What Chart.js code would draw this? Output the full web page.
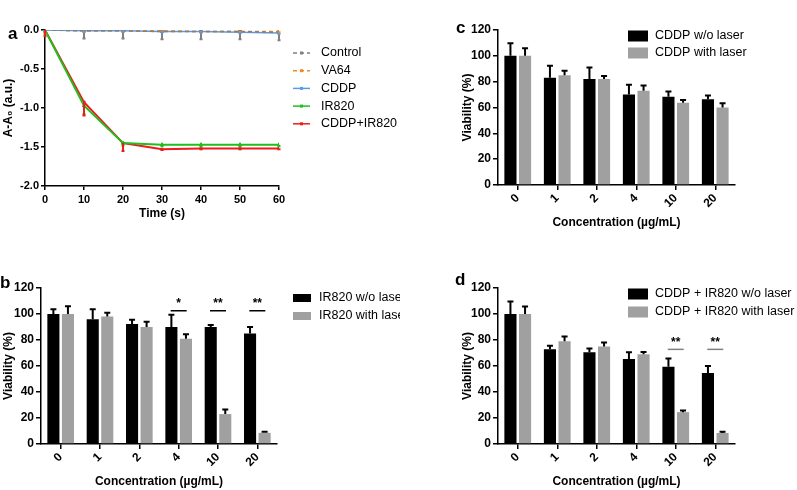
<!DOCTYPE html>
<html>
<head>
<meta charset="utf-8">
<script src="https://cdn.jsdelivr.net/npm/chart.js@4.4.0/dist/chart.umd.min.js"></script>
<style>
  body { margin: 0; background: #fff; width: 797px; height: 490px; overflow: hidden; position: relative; font-family: 'Liberation Sans', Arial, sans-serif; }
  canvas { position: absolute; }
  .tag { position: absolute; font-weight: bold; font-size: 17px; line-height: 17px; }
</style>
</head>
<body>
<canvas id="chart-a" width="400" height="240" style="left:0;top:0"></canvas>
<canvas id="chart-b" width="400" height="245" style="left:0;top:245px"></canvas>
<canvas id="chart-c" width="377" height="240" style="left:420px;top:0"></canvas>
<canvas id="chart-d" width="377" height="245" style="left:420px;top:245px"></canvas>
<div class="tag" style="left:8px;top:25px">a</div>
<div class="tag" style="left:0;top:274px">b</div>
<div class="tag" style="left:456px;top:19px">c</div>
<div class="tag" style="left:455px;top:271px">d</div>
<script>
// panel a - absorbance change vs time
const timePoints = [0, 10, 20, 30, 40, 50, 60];
const controlAbs = [0, -0.01, -0.01, -0.02, -0.02, -0.02, -0.03];
const controlErr = [0.03, 0.1, 0.1, 0.1, 0.1, 0.1, 0.1];
const va64Abs = [0, -0.01, -0.01, -0.01, -0.02, -0.02, -0.02];
const va64Err = [0.05, 0.01, 0.01, 0.01, 0.01, 0.01, 0.01];
const cddpAbs = [0, -0.01, -0.01, -0.02, -0.02, -0.03, -0.04];
const cddpErr = [0.01, 0.01, 0.01, 0.01, 0.01, 0.01, 0.01];
const ir820Abs = [0, -0.97, -1.45, -1.47, -1.47, -1.47, -1.47];
const ir820Err = [0.02, 0.11, 0.03, 0.02, 0.02, 0.02, 0.02];
const comboAbs = [0, -0.925, -1.45, -1.53, -1.52, -1.52, -1.52];
const comboErr = [0.08, 0.17, 0.1, 0.01, 0.01, 0.01, 0.01];

// panels b-d - viability
const concLabels = ['0', '1', '2', '4', '10', '20'];
const irNoLaser = [100, 96, 92.4, 90, 90, 85];
const irNoLaserErr = [3.6, 7.6, 3.1, 9.5, 1.5, 5];
const irLaser = [100, 98, 90, 81, 23, 8.6];
const irLaserErr = [6, 3, 4, 3.5, 3.5, 0.9];
const cddpNoLaser = [100, 83, 82, 70, 68.4, 66.3];
const cddpNoLaserErr = [9.7, 9.4, 9, 7.7, 3.9, 2.9];
const cddpLaser = [100, 85, 82, 73, 63.7, 60];
const cddpLaserErr = [5.8, 3.5, 2.4, 4, 2.1, 3.2];
const comboNoLaser = [100, 72.8, 70.5, 65.3, 59.4, 54.7];
const comboNoLaserErr = [9.7, 2.8, 3, 5.2, 6.4, 5.3];
const comboLaser = [100, 79, 75, 69, 24.5, 8.5];
const comboLaserErr = [5.8, 3.6, 3, 1.7, 1.3, 1];

// significance marks
const sigIndexB = [3, 4, 5];
const sigTextB = ['*', '**', '**'];
const sigLineB = 102.5;
const sigIndexD = [4, 5];
const sigTextD = ['**', '**'];
const sigLineD = 72.8;

Chart.defaults.font.family = "'Liberation Sans', Arial, sans-serif";
Chart.defaults.color = '#000';

const errorBars = {
  id: 'errorBars',
  afterDatasetsDraw(chart) {
    const ctx = chart.ctx;
    const yScale = chart.scales.y;
    chart.data.datasets.forEach((ds, i) => {
      if (!ds.errors) return;
      const meta = chart.getDatasetMeta(i);
      ctx.save();
      ctx.strokeStyle = ds.errorColor || '#000';
      ctx.lineWidth = ds.errorWidth || 1.5;
      meta.data.forEach((el, j) => {
        const val = meta.controller.getParsed(j).y;
        const end = yScale.getPixelForValue(val + ds.errorDir * ds.errors[j]);
        const cap = ds.errorCap || 3;
        ctx.beginPath();
        ctx.moveTo(el.x, el.y);
        ctx.lineTo(el.x, end);
        ctx.moveTo(el.x - cap, end);
        ctx.lineTo(el.x + cap, end);
        ctx.stroke();
      });
      ctx.restore();
    });
  }
};

const sigMarks = {
  id: 'sigMarks',
  afterDatasetsDraw(chart, args, opts) {
    if (!opts.index) return;
    const {ctx, scales: {x, y}} = chart;
    ctx.save();
    ctx.strokeStyle = opts.color;
    ctx.fillStyle = '#000';
    ctx.lineWidth = 1.5;
    ctx.font = "bold 12px 'Liberation Sans', Arial, sans-serif";
    ctx.textAlign = 'center';
    ctx.textBaseline = 'middle';
    opts.index.forEach((idx, k) => {
      const cx = x.getPixelForValue(idx);
      const ly = y.getPixelForValue(opts.level);
      ctx.beginPath();
      ctx.moveTo(cx - 8, ly);
      ctx.lineTo(cx + 8, ly);
      ctx.stroke();
      ctx.fillText(opts.text[k], cx, ly - 7);
    });
    ctx.restore();
  }
};

const boxLegend = {
  id: 'boxLegend',
  afterDraw(chart, args, opts) {
    const ctx = chart.ctx;
    ctx.save();
    ctx.font = "12.5px 'Liberation Sans', Arial, sans-serif";
    ctx.textBaseline = 'middle';
    ctx.textAlign = 'left';
    chart.data.datasets.forEach((ds, i) => {
      const cy = opts.top + i * opts.gap;
      if (opts.kind === 'line') {
        ctx.strokeStyle = ds.borderColor;
        ctx.lineWidth = 1.5;
        ctx.setLineDash(ds.borderDash || []);
        ctx.beginPath();
        ctx.moveTo(opts.left, cy);
        ctx.lineTo(opts.left + opts.w, cy);
        ctx.stroke();
        ctx.setLineDash([]);
        ctx.fillStyle = ds.borderColor;
        ctx.fillRect(opts.left + opts.w / 2 - 1.5, cy - 1.5, 3, 3);
      } else {
        ctx.fillStyle = ds.backgroundColor;
        ctx.fillRect(opts.left, cy - opts.h / 2, opts.w, opts.h);
      }
      ctx.fillStyle = '#000';
      ctx.fillText(ds.label, opts.left + opts.textOffset, cy);
    });
    ctx.restore();
  }
};

function xy(xs, ys) {
  return xs.map((v, i) => ({x: v, y: ys[i]}));
}

function lineSet(label, ys, errs, color, dash, style, radius, width) {
  return {
    label: label,
    data: xy(timePoints, ys),
    borderColor: color,
    backgroundColor: color,
    borderWidth: width,
    borderDash: dash,
    pointStyle: style,
    pointRadius: radius,
    pointBorderWidth: 1,
    errors: errs,
    errorDir: -1,
    errorColor: color,
    errorWidth: 2,
    errorCap: 1.5
  };
}

const axisGrid = { display: true, drawOnChartArea: false, drawTicks: true, tickLength: 4, color: '#000', lineWidth: 1.5 };
const axisBorder = { color: '#000', width: 1.5 };
const tickFont = { size: 12, weight: 'bold' };
const titleFont = { size: 12, weight: 'bold' };

const configA = {
  type: 'line',
  data: {
    datasets: [
      lineSet('Control', controlAbs, controlErr, '#808080', [4, 3], 'circle', 1.5, 1.5),
      lineSet('VA64', va64Abs, va64Err, '#f5891f', [4, 3], 'rect', 2, 1.5),
      lineSet('CDDP', cddpAbs, cddpErr, '#5b9be6', [], 'circle', 1.5, 1.5),
      lineSet('IR820', ir820Abs, ir820Err, '#1fbf1f', [], 'triangle', 2, 2),
      lineSet('CDDP+IR820', comboAbs, comboErr, '#ee1c1c', [], 'rect', 1.5, 2)
    ]
  },
  options: {
    responsive: false,
    animation: false,
    layout: { padding: { left: 0, right: 121, top: 30, bottom: 19 } },
    plugins: {
      legend: { display: false },
      tooltip: { enabled: false },
      boxLegend: { kind: 'line', left: 293, top: 53, gap: 17.7, w: 17, textOffset: 28 }
    },
    scales: {
      x: {
        type: 'linear', min: 0, max: 60,
        grid: axisGrid, border: axisBorder,
        ticks: { stepSize: 10, font: { size: 11, weight: 'bold' }, padding: 3, maxRotation: 0 },
        title: { display: true, text: 'Time (s)', font: titleFont, padding: { top: 0, bottom: 0 } },
        afterFit: s => { s.height = 35; }
      },
      y: {
        min: -2, max: 0,
        grid: axisGrid, border: axisBorder,
        ticks: { stepSize: 0.5, font: { size: 11, weight: 'bold' }, padding: 2, callback: v => v.toFixed(1) },
        title: { display: true, text: 'A-A\u2080 (a.u.)', font: titleFont, padding: { top: 1, bottom: 0 } },
        afterFit: s => { s.width = 45; }
      }
    }
  },
  plugins: [errorBars, boxLegend]
};

new Chart(document.getElementById('chart-a').getContext('2d'), configA);

function barSet(label, values, errs, color) {
  return {
    label: label,
    data: values,
    backgroundColor: color,
    barPercentage: 0.83,
    categoryPercentage: 0.74,
    errors: errs,
    errorDir: 1,
    errorColor: '#000',
    errorWidth: 2,
    errorCap: 3
  };
}

function barConfig(datasets, pad, yWidth, legend, sig) {
  return {
    type: 'bar',
    data: { labels: concLabels, datasets: datasets },
    options: {
      responsive: false,
      animation: false,
      layout: { padding: pad },
      plugins: {
        legend: { display: false },
        tooltip: { enabled: false },
        boxLegend: legend,
        sigMarks: sig
      },
      scales: {
        x: {
          grid: Object.assign({}, axisGrid, { offset: false, tickLength: 5 }),
          border: axisBorder,
          ticks: { minRotation: 45, maxRotation: 45, font: tickFont, padding: 1 },
          title: { display: true, text: 'Concentration (\u00b5g/mL)', font: titleFont, padding: { top: 0, bottom: 1 } },
          afterFit: s => { s.height = 46; }
        },
        y: {
          min: 0, max: 120,
          grid: Object.assign({}, axisGrid, { tickLength: 5 }),
          border: axisBorder,
          ticks: { stepSize: 20, font: tickFont, padding: 2 },
          title: { display: true, text: 'Viability (%)', font: titleFont, padding: { top: 1, bottom: 0 } },
          afterFit: s => { s.width = yWidth; }
        }
      }
    },
    plugins: [errorBars, sigMarks, boxLegend]
  };
}

const black = '#000000';
const grey = '#a0a0a0';

new Chart(document.getElementById('chart-b').getContext('2d'), barConfig(
  [barSet('IR820 w/o laser', irNoLaser, irNoLaserErr, black), barSet('IR820 with laser', irLaser, irLaserErr, grey)],
  { left: 0, right: 123, top: 43, bottom: 0 }, 41,
  { kind: 'box', left: 293, top: 53, gap: 18, w: 18, h: 8, textOffset: 26 },
  { index: sigIndexB, text: sigTextB, level: sigLineB, color: '#000' }
));

new Chart(document.getElementById('chart-c').getContext('2d'), barConfig(
  [barSet('CDDP w/o laser', cddpNoLaser, cddpNoLaserErr, black), barSet('CDDP with laser', cddpLaser, cddpLaserErr, grey)],
  { left: 39, right: 62, top: 30, bottom: 9 }, 39,
  { kind: 'box', left: 208, top: 36, gap: 17, w: 20, h: 11, textOffset: 27 },
  {}
));

new Chart(document.getElementById('chart-d').getContext('2d'), barConfig(
  [barSet('CDDP + IR820 w/o laser', comboNoLaser, comboNoLaserErr, black), barSet('CDDP + IR820 with laser', comboLaser, comboLaserErr, grey)],
  { left: 39, right: 62, top: 43, bottom: 0 }, 39,
  { kind: 'box', left: 208, top: 49, gap: 18, w: 20, h: 11, textOffset: 27 },
  { index: sigIndexD, text: sigTextD, level: sigLineD, color: '#808080' }
));
</script>
</body>
</html>
